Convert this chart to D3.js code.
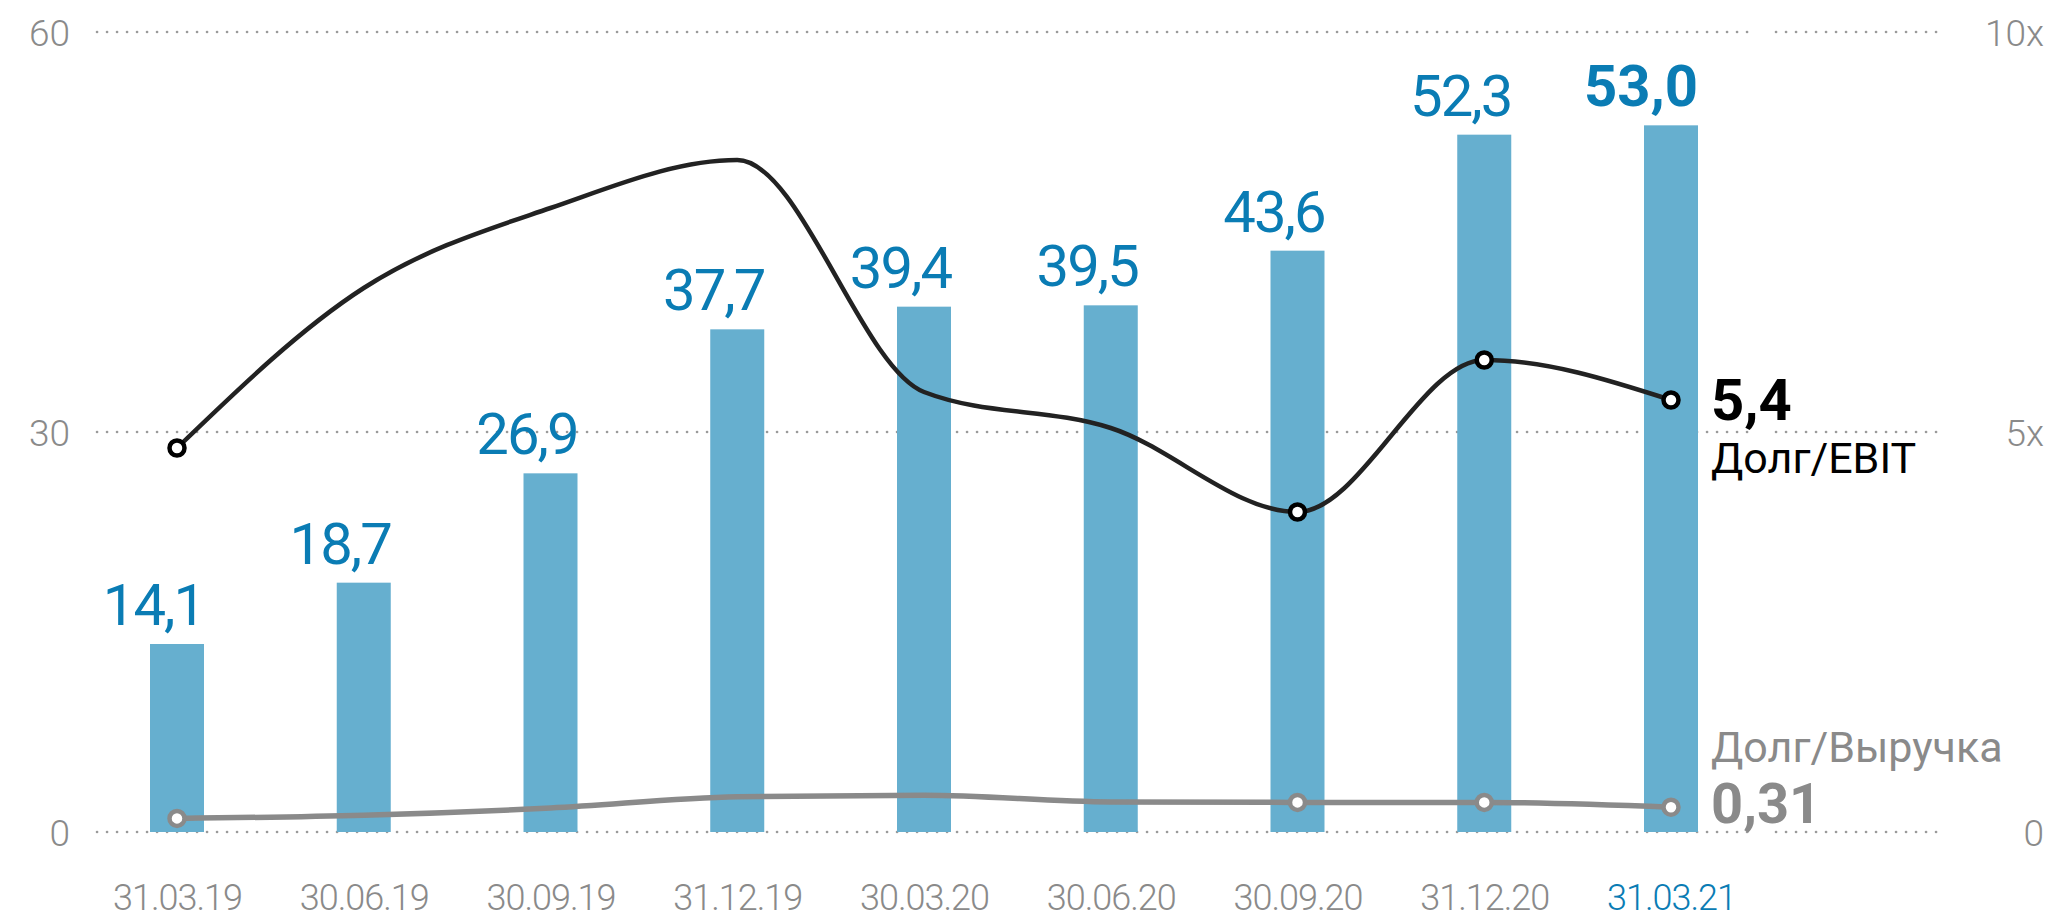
<!DOCTYPE html>
<html>
<head>
<meta charset="utf-8">
<script src="https://cdn.jsdelivr.net/npm/d3@7"></script>
<style>
  html, body { margin: 0; padding: 0; background: #fff; }
  svg { display: block; font-family: Roboto, "Noto Sans", sans-serif; }
</style>
</head>
<body>
<script>
// data
const dates = ["31.03.19", "30.06.19", "30.09.19", "31.12.19", "30.03.20", "30.06.20", "30.09.20", "31.12.20", "31.03.21"];
const debt = [14.1, 18.7, 26.9, 37.7, 39.4, 39.5, 43.6, 52.3, 53.0];
const debtEbit = [4.8, 6.8, 7.8, 8.4, 5.5, 5.05, 4.0, 5.9, 5.4];
const debtRevenue = [0.17, 0.21, 0.3, 0.44, 0.46, 0.375, 0.37, 0.37, 0.31];
const markedPoints = [0, 6, 7, 8];
const leftTicks = [0, 30, 60];
const rightTicks = [0, 5, 10];
const rightTickLabels = ["0", "5x", "10x"];

const W = 2049, H = 919;
const fmt = v => String(v).replace(".", ",");
const fmt1 = v => v.toFixed(1).replace(".", ",");

const blue = "#0a7cb4", barColor = "#66afcf", grey = "#8a8a8a";

const svg = d3.select("body").append("svg")
  .attr("width", W).attr("height", H);

const x = d3.scalePoint().domain(dates).range([177, 1671]);
const yL = d3.scaleLinear().domain([0, 60]).range([832, 32]);
const yR = d3.scaleLinear().domain([0, 10]).range([832, 32]);
const barW = 54;

// dotted grid lines (split in two pieces like the original)
const gridPieces = [[97, 1752], [1776, 1938]];
leftTicks.forEach(t => {
  gridPieces.forEach(p => {
    svg.append("line")
      .attr("x1", p[0]).attr("x2", p[1])
      .attr("y1", yL(t)).attr("y2", yL(t))
      .attr("stroke", "#9a9a9a")
      .attr("stroke-width", 2.6)
      .attr("stroke-linecap", "round")
      .attr("stroke-dasharray", "0.1 9.9");
  });
});

// left axis
const leftAxis = svg.append("g").attr("transform", "translate(70,0)")
  .call(d3.axisLeft(yL).tickValues(leftTicks).tickSize(0).tickPadding(0));
leftAxis.select(".domain").remove();
leftAxis.selectAll("text")
  .attr("font-size", 37).attr("fill", grey)
  .attr("font-family", "Roboto").attr("font-weight", 300)
  .attr("dy", "0.36em");

// right axis
const rightAxis = svg.append("g").attr("transform", "translate(2044,0)")
  .call(d3.axisLeft(yR).tickValues(rightTicks).tickSize(0).tickPadding(0)
    .tickFormat((d, i) => rightTickLabels[i]));
rightAxis.select(".domain").remove();
rightAxis.selectAll("text")
  .attr("font-size", 37).attr("fill", grey)
  .attr("font-family", "Roboto").attr("font-weight", 300)
  .attr("dy", "0.36em");

// x axis
const xAxis = svg.append("g").attr("transform", "translate(0,910)")
  .call(d3.axisBottom(x).tickSize(0).tickPadding(0));
xAxis.select(".domain").remove();
xAxis.selectAll("text")
  .attr("font-size", 36).attr("font-family", "Roboto").attr("font-weight", 300)
  .attr("letter-spacing", "-1px")
  .attr("dy", 0)
  .attr("fill", (d, i) => i === dates.length - 1 ? blue : grey);

// bars
svg.selectAll("rect.bar").data(debt).enter().append("rect")
  .attr("class", "bar")
  .attr("x", (d, i) => x(dates[i]) - barW / 2)
  .attr("y", d => yL(d))
  .attr("width", barW)
  .attr("height", d => yL(0) - yL(d))
  .attr("fill", barColor);

// bar labels, right-aligned with bar edge
svg.selectAll("text.val").data(debt).enter().append("text")
  .attr("class", "val")
  .attr("x", (d, i) => x(dates[i]) + barW / 2)
  .attr("y", d => yL(d) - 19)
  .attr("text-anchor", "end")
  .attr("font-size", 58)
  .attr("letter-spacing", (d, i) => i === debt.length - 1 ? "0px" : "-2px")
  .attr("font-weight", (d, i) => i === debt.length - 1 ? 700 : 400)
  .attr("fill", blue)
  .text(d => fmt1(d));

// lines
const line = d3.line()
  .x((d, i) => x(dates[i]))
  .y(d => yR(d))
  .curve(d3.curveMonotoneX);

svg.append("path").datum(debtRevenue)
  .attr("d", line)
  .attr("fill", "none")
  .attr("stroke", grey)
  .attr("stroke-width", 5.5);

svg.append("path").datum(debtEbit)
  .attr("d", line)
  .attr("fill", "none")
  .attr("stroke", "#222")
  .attr("stroke-width", 4.5);

svg.selectAll("circle.rev").data(markedPoints).enter().append("circle")
  .attr("class", "rev")
  .attr("cx", i => x(dates[i]))
  .attr("cy", i => yR(debtRevenue[i]))
  .attr("r", 7.5)
  .attr("fill", "#fff")
  .attr("stroke", grey)
  .attr("stroke-width", 4.5);

svg.selectAll("circle.ebit").data(markedPoints).enter().append("circle")
  .attr("class", "ebit")
  .attr("cx", i => x(dates[i]))
  .attr("cy", i => yR(debtEbit[i]))
  .attr("r", 7.5)
  .attr("fill", "#fff")
  .attr("stroke", "#000")
  .attr("stroke-width", 4.5);

// end annotations
const last = dates.length - 1;
const annX = x(dates[last]) + 40;

svg.append("text")
  .attr("x", annX).attr("y", 420)
  .attr("font-size", 58).attr("font-weight", 700).attr("fill", "#000")
  .text(fmt(debtEbit[last]));
svg.append("text")
  .attr("x", annX).attr("y", 473)
  .attr("font-size", 43).attr("fill", "#000")
  .text("Долг/EBIT");

svg.append("text")
  .attr("x", annX).attr("y", 762)
  .attr("font-size", 43).attr("fill", grey)
  .text("Долг/Выручка");
svg.append("text")
  .attr("x", annX).attr("y", 823)
  .attr("font-size", 56).attr("font-weight", 700).attr("fill", grey)
  .text(fmt(debtRevenue[last]));
</script>
</body>
</html>
